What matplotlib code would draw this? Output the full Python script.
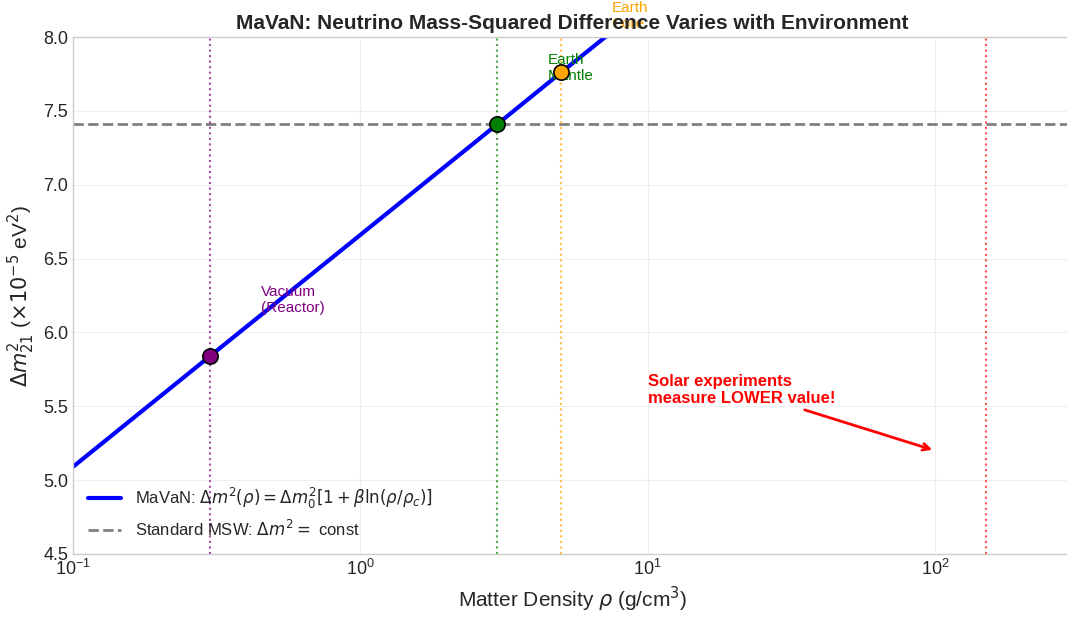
import matplotlib
matplotlib.use("Agg")
import matplotlib.pyplot as plt

# Data
line_rho = [0.1, 0.3, 1.0, 3.0, 5.0, 10.0]
line_dm2 = [5.09, 5.84, 6.66, 7.41, 7.76, 8.23]
std_dm2 = 7.41

env_names = ["Vacuum\n(Reactor)", "Earth\nMantle", "Earth\nCore", "Sun\nCore"]
env_rho = [0.3, 3.0, 5.0, 150.0]
env_dm2 = [5.84, 7.41, 7.76]
env_colors = ["purple", "green", "orange", "red"]

plt.style.use("seaborn-v0_8-whitegrid")
fig = plt.figure(figsize=(10.67, 6.24), dpi=100)
ax = fig.add_axes([0.0684, 0.1122, 0.9363, 0.8285])

ax.plot(line_rho, line_dm2, color="blue", lw=3,
        label=r"MaVaN: $\Delta m^2(\rho) = \Delta m_0^2[1 + \beta \ln(\rho/\rho_c)]$")
ax.axhline(std_dm2, color="gray", ls="--", lw=2,
           label=r"Standard MSW: $\Delta m^2 = $ const")

for i, (r, c) in enumerate(zip(env_rho, env_colors)):
    ax.axvline(r, color=c, ls=":", lw=1.5, alpha=0.7)
    if i < len(env_dm2):
        ax.plot(r, env_dm2[i], "o", color=c, ms=11, mec="black", mew=1.2, zorder=5)
        ax.text(r * 1.5, env_dm2[i] + 0.38, env_names[i], color=c, fontsize=11,
                va="center", ha="left")

ax.annotate("Solar experiments\nmeasure LOWER value!", xy=(100, 5.2), xytext=(10, 5.5),
            fontsize=12, color="red", fontweight="bold", ha="left", va="bottom",
            arrowprops=dict(arrowstyle="->", color="red", lw=2))

ax.set_xscale("log")
ax.set_xlim(0.1, 300)
ax.set_ylim(4.5, 8.0)
ax.set_xlabel(r"Matter Density $\rho$ (g/cm$^3$)", fontsize=15)
ax.set_ylabel(r"$\Delta m^2_{21}$ ($\times 10^{-5}$ eV$^2$)", fontsize=15)
ax.set_title("MaVaN: Neutrino Mass-Squared Difference Varies with Environment",
             fontsize=15, fontweight="bold")
ax.tick_params(labelsize=13)
ax.grid(True, alpha=0.3)
ax.legend(loc="lower left", fontsize=12)

fig.savefig("out.png", dpi=100)
